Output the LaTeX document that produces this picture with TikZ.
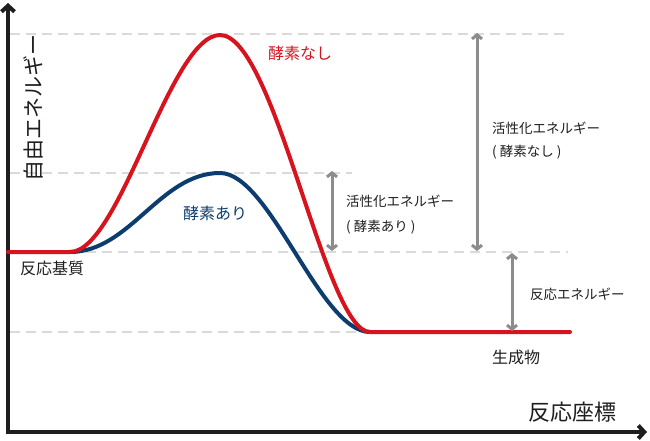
\documentclass[tikz,border=0pt]{standalone}
\usepackage{fontspec}
\setmainfont{Noto Sans CJK JP}
\usetikzlibrary{arrows.meta}
\definecolor{cRed}{HTML}{D7141E}
\definecolor{cBlue}{HTML}{0D3C6E}
\definecolor{cGray}{HTML}{8C8C8C}
\definecolor{cDash}{HTML}{DADADA}
\definecolor{cInk}{HTML}{1E1E1E}
\tikzset{
  axis/.style={draw=cInk, line width=4pt,
    {Straight Barb[length=6pt,width=13pt]}-{Straight Barb[length=6pt,width=13pt]}},
  guide/.style={draw=cDash, line width=1.5pt, dash pattern=on 10pt off 6pt},
  gap/.style={draw=cGray, line width=3pt,
    {Straight Barb[length=4pt,width=10pt]}-{Straight Barb[length=4pt,width=10pt]}},
  curve/.style={line width=4pt, line cap=round},
  lbl/.style={font=\fontsize{13.5}{16}\selectfont, text=cInk, inner sep=0pt, anchor=west},
  mid/.style={font=\fontsize{16}{18}\selectfont, inner sep=0pt, anchor=west},
}
\begin{document}
\begin{tikzpicture}[x=1pt, y=-1pt]
  \useasboundingbox (0,0) rectangle (650,440);
  % levels
  \coordinate (s0) at (8,252);
  \coordinate (s1) at (70,252);
  \coordinate (topR) at (220,35);
  \coordinate (topB) at (220,173);
  \coordinate (p0) at (370,332);
  \coordinate (p1) at (570,332);
  % guides
  \foreach \y/\xa/\xb in {34/10/568, 173/10/352, 252/70/568, 332/10/370}
    \draw[guide] (\xa,\y) -- (\xb,\y);
  % axes
  \coordinate (ytip) at (8,3);
  \coordinate (orig) at (8,432);
  \coordinate (xtip) at (647,432);
  \draw[axis] (ytip) -- (orig) -- (xtip);
  % curves
  \draw[curve, cBlue] (s1) .. controls (130,252) and (160,173) .. (topB)
    .. controls (270,173) and (320,332) .. (p0);
  \draw[curve, cRed] (s0) -- (s1) .. controls (120,252) and (170,35) .. (topR)
    .. controls (275,35) and (325,332) .. (p0) -- (p1);
  % energy gaps
  \coordinate (g1a) at (332,171);
  \coordinate (g1b) at (332,251);
  \coordinate (g2a) at (477,33);
  \coordinate (g2b) at (477,251);
  \coordinate (g3a) at (512,253);
  \coordinate (g3b) at (512,331);
  \draw[gap] (g1a) -- (g1b);
  \draw[gap] (g2a) -- (g2b);
  \draw[gap] (g3a) -- (g3b);
  % labels
  \node[font=\fontsize{21}{24}\selectfont, text=cInk, rotate=90] (yl) at (33,108) {自由エネルギー};
  \node[font=\fontsize{22}{24}\selectfont, text=cInk, inner sep=0pt, anchor=west] (xl) at (528,412) {反応座標};
  \node[mid, text=cRed] (noenz) at (268,53) {酵素なし};
  \node[mid, text=cBlue] (enz) at (183,213) {酵素あり};
  \node[mid, text=cInk] (sub) at (20,268) {反応基質};
  \node[mid, text=cInk] (prod) at (492,357) {生成物};
  \node[lbl] (ea1) at (346,201) {活性化エネルギー};
  \node[lbl] (ea1b) at (346,227) {( 酵素あり )};
  \node[lbl] (ea2) at (492,128) {活性化エネルギー};
  \node[lbl] (ea2b) at (492,152) {( 酵素なし )};
  \node[lbl] (dh) at (530,294) {反応エネルギー};
\end{tikzpicture}
\end{document}
